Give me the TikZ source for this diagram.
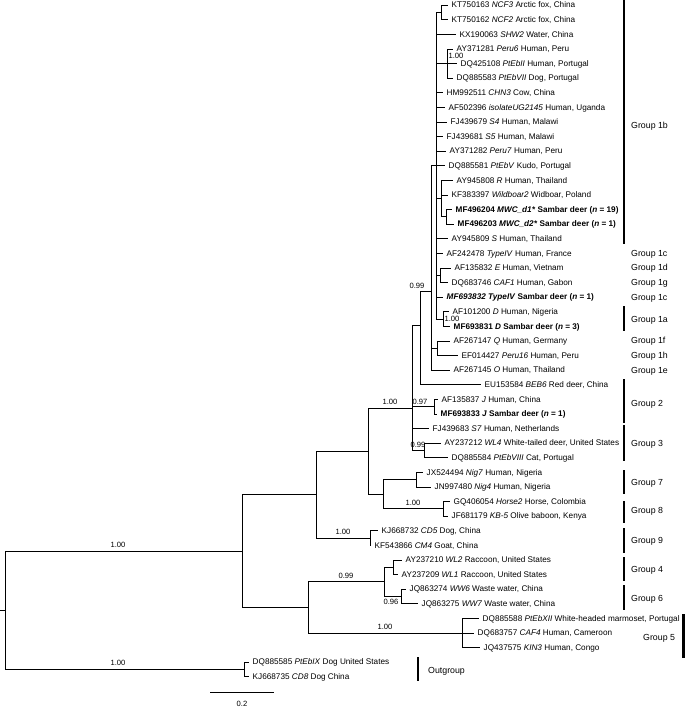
\documentclass[tikz,border=0pt]{standalone}
\usepackage{fontspec}
\setmainfont{Liberation Sans}
\begin{document}
\begin{tikzpicture}[
    x=1pt, y=-1pt,
    edge/.style={line width=0.6pt},
    tip/.style={anchor=west, inner xsep=3.5pt, inner ysep=0pt, text height=5.9pt, text depth=0pt, font=\fontsize{8.2}{9}\selectfont},
    prob/.style={inner sep=0pt, font=\fontsize{7.6}{8}\selectfont},
    grp/.style={anchor=west, inner sep=0pt, text height=6.3pt, text depth=0pt, font=\fontsize{8.8}{10}\selectfont},
    bar/.style={line width=2.6pt}
]
\useasboundingbox (0,0) rectangle (685,710);

% internal nodes
\coordinate (stub) at (0,610.1);
\coordinate (root) at (5,610.1);
\coordinate (nA) at (242,550.9);
\coordinate (nOG) at (244,669.3);
\coordinate (nB) at (316,494.5);
\coordinate (nF) at (308,607.3);
\coordinate (nC) at (368,451);
\coordinate (nG9) at (370,537.9);
\coordinate (nD) at (412,408);
\coordinate (nE) at (383,494.1);
\coordinate (nG7) at (416,479.5);
\coordinate (nG8) at (443,508.7);
\coordinate (nN0) at (420,325);
\coordinate (nJ) at (434,406.5);
\coordinate (nG3) at (424,450.3);
\coordinate (nN1) at (431,291);
\coordinate (nN2) at (436,165.6);
\coordinate (nQP) at (437,348.1);
\coordinate (nNCF) at (441,12.3);
\coordinate (nPeru) at (447,63.4);
\coordinate (nR) at (441,198.5);
\coordinate (nMWC) at (446,216.7);
\coordinate (nCAF) at (440,275.1);
\coordinate (n1a) at (443,318.9);
\coordinate (nG46) at (384,581.7);
\coordinate (nG4) at (393,567.1);
\coordinate (nG6) at (401,596.3);
\coordinate (nG5) at (462,632.8);

% leaves
\node[tip] (l01) at (448,5.0) {KT750163 \textit{NCF3} Arctic fox, China};
\node[tip] (l02) at (448,19.6) {KT750162 \textit{NCF2} Arctic fox, China};
\node[tip] (l03) at (456,34.2) {KX190063 \textit{SHW2} Water, China};
\node[tip] (l04) at (453,48.8) {AY371281 \textit{Peru6} Human, Peru};
\node[tip] (l05) at (457,63.4) {DQ425108 \textit{PtEbII} Human, Portugal};
\node[tip] (l06) at (453,78.0) {DQ885583 \textit{PtEbVII} Dog, Portugal};
\node[tip] (l07) at (443,92.6) {HM992511 \textit{CHN3} Cow, China};
\node[tip] (l08) at (445,107.2) {AF502396 \textit{isolateUG2145} Human, Uganda};
\node[tip] (l09) at (447,121.8) {FJ439679 \textit{S4} Human, Malawi};
\node[tip] (l10) at (443,136.4) {FJ439681 \textit{S5} Human, Malawi};
\node[tip] (l11) at (446,151.0) {AY371282 \textit{Peru7} Human, Peru};
\node[tip] (l12) at (445,165.6) {DQ885581 \textit{PtEbV} Kudo, Portugal};
\node[tip] (l13) at (453,180.2) {AY945808 \textit{R} Human, Thailand};
\node[tip] (l14) at (448,194.8) {KF383397 \textit{Wildboar2} Widboar, Poland};
\node[tip] (l15) at (452,209.4) {\textbf{MF496204 \textit{MWC\_d1*} Sambar deer (\textit{n} = 19)}};
\node[tip] (l16) at (454,224.0) {\textbf{MF496203 \textit{MWC\_d2*} Sambar deer (\textit{n} = 1)}};
\node[tip] (l17) at (448,238.6) {AY945809 \textit{S} Human, Thailand};
\node[tip] (l18) at (443,253.2) {AF242478 \textit{TypeIV} Human, France};
\node[tip] (l19) at (451,267.8) {AF135832 \textit{E} Human, Vietnam};
\node[tip] (l20) at (448,282.4) {DQ683746 \textit{CAF1} Human, Gabon};
\node[tip] (l21) at (443,297.0) {\textbf{\textit{MF693832 TypeIV} Sambar deer (\textit{n} = 1)}};
\node[tip] (l22) at (449,311.6) {AF101200 \textit{D} Human, Nigeria};
\node[tip] (l23) at (450,326.2) {\textbf{MF693831 \textit{D} Sambar deer (\textit{n} = 3)}};
\node[tip] (l24) at (450,340.8) {AF267147 \textit{Q} Human, Germany};
\node[tip] (l25) at (458,355.4) {EF014427 \textit{Peru16} Human, Peru};
\node[tip] (l26) at (450,370.0) {AF267145 \textit{O} Human, Thailand};
\node[tip] (l27) at (481,384.6) {EU153584 \textit{BEB6} Red deer, China};
\node[tip] (l28) at (438,399.2) {AF135837 \textit{J} Human, China};
\node[tip] (l29) at (437,413.8) {\textbf{MF693833 \textit{J} Sambar deer (\textit{n} = 1)}};
\node[tip] (l30) at (429,428.4) {FJ439683 \textit{S7} Human, Netherlands};
\node[tip] (l31) at (441,443.0) {AY237212 \textit{WL4} White-tailed deer, United States};
\node[tip] (l32) at (448,457.6) {DQ885584 \textit{PtEbVIII} Cat, Portugal};
\node[tip] (l33) at (423,472.2) {JX524494 \textit{Nig7} Human, Nigeria};
\node[tip] (l34) at (431,486.8) {JN997480 \textit{Nig4} Human, Nigeria};
\node[tip] (l35) at (450,501.4) {GQ406054 \textit{Horse2} Horse, Colombia};
\node[tip] (l36) at (448,516.0) {JF681179 \textit{KB-5} Olive baboon, Kenya};
\node[tip] (l37) at (378,530.6) {KJ668732 \textit{CD5} Dog, China};
\node[tip] (l38) at (371,545.2) {KF543866 \textit{CM4} Goat, China};
\node[tip] (l39) at (402,559.8) {AY237210 \textit{WL2} Raccoon, United States};
\node[tip] (l40) at (398,574.4) {AY237209 \textit{WL1} Raccoon, United States};
\node[tip] (l41) at (406,589.0) {JQ863274 \textit{WW6} Waste water, China};
\node[tip] (l42) at (418,603.6) {JQ863275 \textit{WW7} Waste water, China};
\node[tip] (l43) at (479,618.2) {DQ885588 \textit{PtEbXII} White-headed marmoset, Portugal};
\node[tip] (l44) at (474,632.8) {DQ683757 \textit{CAF4} Human, Cameroon};
\node[tip] (l45) at (480,647.4) {JQ437575 \textit{KIN3} Human, Congo};
\node[tip] (l46) at (249,662.0) {DQ885585 \textit{PtEbIX} Dog United States};
\node[tip] (l47) at (249,676.6) {KJ668735 \textit{CD8} Dog China};

% branches
\draw[edge] (stub) -- (root);
\draw[edge] (root) |- (nA);
\draw[edge] (root) |- (nOG);
\draw[edge] (nOG) |- (l46.west);
\draw[edge] (nOG) |- (l47.west);
\draw[edge] (nA) |- (nB);
\draw[edge] (nA) |- (nF);
\draw[edge] (nB) |- (nC);
\draw[edge] (nB) |- (nG9);
\draw[edge] (nG9) |- (l37.west);
\draw[edge] (nG9) |- (l38.west);
\draw[edge] (nC) |- (nD);
\draw[edge] (nC) |- (nE);
\draw[edge] (nE) |- (nG7);
\draw[edge] (nE) |- (nG8);
\draw[edge] (nG7) |- (l33.west);
\draw[edge] (nG7) |- (l34.west);
\draw[edge] (nG8) |- (l35.west);
\draw[edge] (nG8) |- (l36.west);
\draw[edge] (nD) |- (nN0);
\draw[edge] (nD) |- (nJ);
\draw[edge] (nD) |- (l30.west);
\draw[edge] (nD) |- (nG3);
\draw[edge] (nJ) |- (l28.west);
\draw[edge] (nJ) |- (l29.west);
\draw[edge] (nG3) |- (l31.west);
\draw[edge] (nG3) |- (l32.west);
\draw[edge] (nN0) |- (nN1);
\draw[edge] (nN0) |- (l27.west);
\draw[edge] (nN1) |- (nN2);
\draw[edge] (nN1) |- (nQP);
\draw[edge] (nN1) |- (l26.west);
\draw[edge] (nQP) |- (l24.west);
\draw[edge] (nQP) |- (l25.west);
\draw[edge] (nN2) |- (nNCF);
\draw[edge] (nN2) |- (l03.west);
\draw[edge] (nN2) |- (nPeru);
\draw[edge] (nN2) |- (l07.west);
\draw[edge] (nN2) |- (l08.west);
\draw[edge] (nN2) |- (l09.west);
\draw[edge] (nN2) |- (l10.west);
\draw[edge] (nN2) |- (l11.west);
\draw[edge] (nN2) |- (l12.west);
\draw[edge] (nN2) |- (nR);
\draw[edge] (nN2) |- (l17.west);
\draw[edge] (nN2) |- (l18.west);
\draw[edge] (nN2) |- (nCAF);
\draw[edge] (nN2) |- (l21.west);
\draw[edge] (nN2) |- (n1a);
\draw[edge] (nNCF) |- (l01.west);
\draw[edge] (nNCF) |- (l02.west);
\draw[edge] (nPeru) |- (l04.west);
\draw[edge] (nPeru) |- (l05.west);
\draw[edge] (nPeru) |- (l06.west);
\draw[edge] (nR) |- (l13.west);
\draw[edge] (nR) |- (l14.west);
\draw[edge] (nR) |- (nMWC);
\draw[edge] (nMWC) |- (l15.west);
\draw[edge] (nMWC) |- (l16.west);
\draw[edge] (nCAF) |- (l19.west);
\draw[edge] (nCAF) |- (l20.west);
\draw[edge] (n1a) |- (l22.west);
\draw[edge] (n1a) |- (l23.west);
\draw[edge] (nF) |- (nG46);
\draw[edge] (nF) |- (nG5);
\draw[edge] (nG46) |- (nG4);
\draw[edge] (nG46) |- (nG6);
\draw[edge] (nG4) |- (l39.west);
\draw[edge] (nG4) |- (l40.west);
\draw[edge] (nG6) |- (l41.west);
\draw[edge] (nG6) |- (l42.west);
\draw[edge] (nG5) |- (l43.west);
\draw[edge] (nG5) |- (l44.west);
\draw[edge] (nG5) |- (l45.west);

% posterior probabilities
\node[prob] (pA) at (118,545) {1.00};
\node[prob] (pOG) at (118,663) {1.00};
\node[prob] (pD) at (390,402) {1.00};
\node[prob] (pG9) at (343,532) {1.00};
\node[prob] (pG8) at (413,503) {1.00};
\node[prob] (pG46) at (346,576) {0.99};
\node[prob] (pG6) at (391,602) {0.96};
\node[prob] (pG5) at (385,627) {1.00};
\node[prob] (pN1) at (417,286) {0.99};
\node[prob] (pJ) at (420,402) {0.97};
\node[prob] (pG3) at (418,445) {0.99};
\node[prob] (pPeru) at (456,56.1) {1.00};
\node[prob] (p1a) at (452,318.9) {1.00};

% groups
\draw[bar] (624,0) -- (624,244);
\draw[bar] (624,306) -- (624,331);
\draw[bar] (624,379) -- (624,423);
\draw[bar] (624,425) -- (624,461);
\draw[bar] (624,470) -- (624,494);
\draw[bar] (624,501) -- (624,523);
\draw[bar] (624,528) -- (624,553);
\draw[bar] (624,557) -- (624,581);
\draw[bar] (624,585) -- (624,610);
\draw[bar] (683.7,614) -- (683.7,658);
\draw[bar] (418,657) -- (418,681);
\node[grp] (g1b) at (631,125) {Group 1b};
\node[grp] (g1c) at (631,253.2) {Group 1c};
\node[grp] (g1d) at (631,267.8) {Group 1d};
\node[grp] (g1g) at (631,282.4) {Group 1g};
\node[grp] (g1c2) at (631,297.0) {Group 1c};
\node[grp] (g1a) at (631,319) {Group 1a};
\node[grp] (g1f) at (631,340.8) {Group 1f};
\node[grp] (g1h) at (631,355.4) {Group 1h};
\node[grp] (g1e) at (631,370.0) {Group 1e};
\node[grp] (g2) at (631,403) {Group 2};
\node[grp] (g3) at (631,443) {Group 3};
\node[grp] (g7) at (631,482) {Group 7};
\node[grp] (g8) at (631,510) {Group 8};
\node[grp] (g9) at (631,540) {Group 9};
\node[grp] (g4) at (631,569) {Group 4};
\node[grp] (g6) at (631,598) {Group 6};
\node[grp] (g5) at (643,637) {Group 5};
\node[grp] (gout) at (428,670) {Outgroup};

% scale bar
\coordinate (sb1) at (210,692);
\coordinate (sb2) at (274,692);
\draw[edge] (sb1) -- (sb2);
\node[prob] (sbl) at (242,704) {0.2};
\end{tikzpicture}
\end{document}
